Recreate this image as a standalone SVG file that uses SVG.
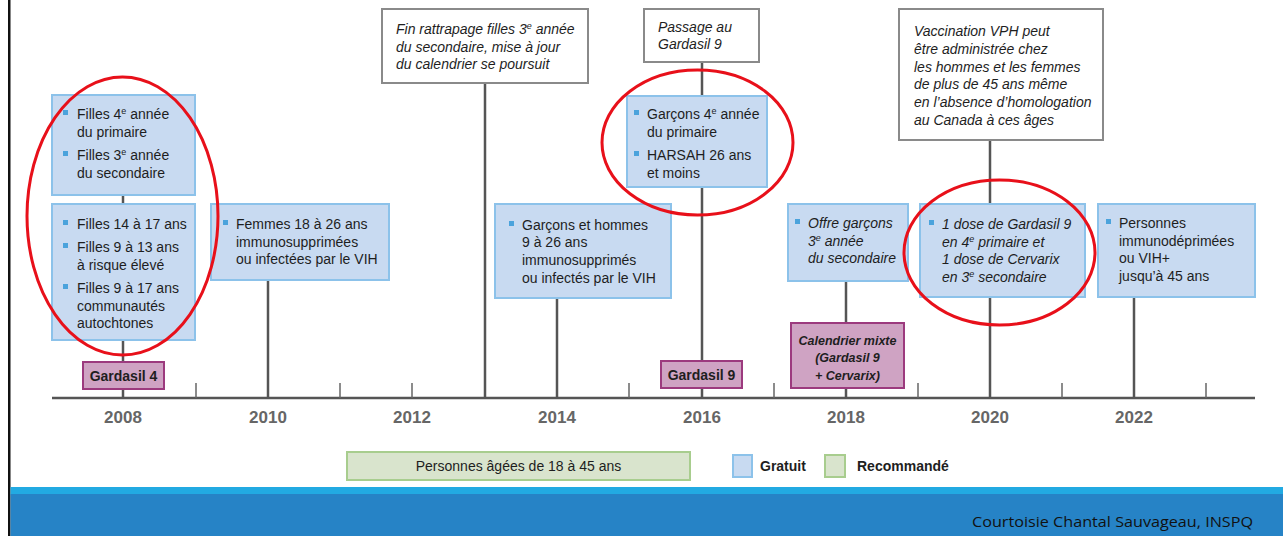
<svg xmlns="http://www.w3.org/2000/svg" width="1283" height="536" viewBox="0 0 1283 536">
<style>
.blue{fill:#c8daf1;stroke:#8cc2ea;stroke-width:2}
.white{fill:#fff;stroke:#8a8a8a;stroke-width:2}
.mauve{fill:#cfa3c3;stroke:#9c3a7e;stroke-width:2}
.green{fill:#d9e4cd;stroke:#a8cd8e;stroke-width:2}
.t{font-family:"Liberation Sans",Arial,sans-serif;font-size:14px;fill:#1e1e1e}
.it{font-style:italic}
.b{font-weight:bold}
.yr{font-family:"Liberation Sans",Arial,sans-serif;font-size:17px;font-weight:bold;fill:#666;text-anchor:middle}
.lab{font-family:"Liberation Sans",Arial,sans-serif;font-size:14px;font-weight:bold;fill:#1e1e1e;text-anchor:middle}
.cal{font-family:"Liberation Sans",Arial,sans-serif;font-size:12.5px;font-weight:bold;font-style:italic;fill:#1e1e1e;text-anchor:middle}
.bul{fill:#4ba3dc}
.ln{stroke:#555;stroke-width:2.5;fill:none}
.tick{stroke:#666;stroke-width:1.5;fill:none}
.red{fill:none;stroke:#e8101a;stroke-width:3}
</style>
<rect x="0" y="0" width="1283" height="536" fill="#fff"/>
<rect x="8" y="0" width="2.5" height="536" fill="#111"/>

<g id="connectors">
<line class="ln" x1="52" y1="398" x2="1255" y2="398" stroke-width="3"/>
<line class="ln" x1="123" y1="195" x2="123" y2="398"/>
<line class="ln" x1="268" y1="280" x2="268" y2="398"/>
<line class="ln" x1="485" y1="83" x2="485" y2="398"/>
<line class="ln" x1="557" y1="298" x2="557" y2="398"/>
<line class="ln" x1="702" y1="62" x2="702" y2="398"/>
<line class="ln" x1="846" y1="281" x2="846" y2="398"/>
<line class="ln" x1="990" y1="140" x2="990" y2="398"/>
<line class="ln" x1="1134" y1="297" x2="1134" y2="398"/>
<line class="tick" x1="196" y1="383" x2="196" y2="398"/>
<line class="tick" x1="340" y1="383" x2="340" y2="398"/>
<line class="tick" x1="412" y1="383" x2="412" y2="398"/>
<line class="tick" x1="629" y1="383" x2="629" y2="398"/>
<line class="tick" x1="774" y1="383" x2="774" y2="398"/>
<line class="tick" x1="918" y1="383" x2="918" y2="398"/>
<line class="tick" x1="1062" y1="383" x2="1062" y2="398"/>
<line class="tick" x1="1206" y1="383" x2="1206" y2="398"/>
</g>

<g id="years">
<text class="yr" x="123" y="423">2008</text>
<text class="yr" x="268" y="423">2010</text>
<text class="yr" x="412" y="423">2012</text>
<text class="yr" x="557" y="423">2014</text>
<text class="yr" x="702" y="423">2016</text>
<text class="yr" x="846" y="423">2018</text>
<text class="yr" x="990" y="423">2020</text>
<text class="yr" x="1134" y="423">2022</text>
</g>

<g id="box-filles-primaire">
<rect class="blue" x="52" y="95" width="143" height="100"/>
<rect class="bul" x="63" y="110" width="5" height="5"/>
<rect class="bul" x="63" y="151" width="5" height="5"/>
<text class="t" x="77" y="119">Filles 4<tspan font-size="9" dy="-5">e</tspan><tspan dy="5"> année</tspan></text>
<text class="t" x="77" y="137">du primaire</text>
<text class="t" x="77" y="160">Filles 3<tspan font-size="9" dy="-5">e</tspan><tspan dy="5"> année</tspan></text>
<text class="t" x="77" y="178">du secondaire</text>
</g>

<g id="box-filles-14-17">
<rect class="blue" x="52" y="204" width="143" height="136"/>
<rect class="bul" x="63" y="220" width="5" height="5"/>
<rect class="bul" x="63" y="243" width="5" height="5"/>
<rect class="bul" x="63" y="284" width="5" height="5"/>
<text class="t" x="77" y="229">Filles 14 à 17 ans</text>
<text class="t" x="77" y="252">Filles 9 à 13 ans</text>
<text class="t" x="77" y="270">à risque élevé</text>
<text class="t" x="77" y="293">Filles 9 à 17 ans</text>
<text class="t" x="77" y="311">communautés</text>
<text class="t" x="77" y="328">autochtones</text>
</g>

<g id="box-femmes">
<rect class="blue" x="211" y="204" width="178" height="76"/>
<rect class="bul" x="223" y="220" width="5" height="5"/>
<text class="t" x="236" y="229">Femmes 18 à 26 ans</text>
<text class="t" x="236" y="247">immunosupprimées</text>
<text class="t" x="236" y="264">ou infectées par le VIH</text>
</g>

<g id="box-fin-rattrapage">
<rect class="white" x="382" y="9" width="206" height="74"/>
<text class="t it" x="396" y="34">Fin rattrapage filles 3<tspan font-size="9" dy="-5">e</tspan><tspan dy="5"> année</tspan></text>
<text class="t it" x="396" y="52">du secondaire, mise à jour</text>
<text class="t it" x="396" y="69">du calendrier se poursuit</text>
</g>

<g id="box-passage">
<rect class="white" x="644" y="9" width="115" height="53"/>
<text class="t it" x="658" y="32">Passage au</text>
<text class="t it" x="658" y="49">Gardasil 9</text>
</g>

<g id="box-garcons-primaire">
<rect class="blue" x="627" y="96" width="140" height="91"/>
<rect class="bul" x="634" y="110" width="5" height="5"/>
<rect class="bul" x="634" y="151" width="5" height="5"/>
<text class="t" x="647" y="119">Garçons 4<tspan font-size="9" dy="-5">e</tspan><tspan dy="5"> année</tspan></text>
<text class="t" x="647" y="137">du primaire</text>
<text class="t" x="647" y="160">HARSAH 26 ans</text>
<text class="t" x="647" y="178">et moins</text>
</g>

<g id="box-garcons-hommes">
<rect class="blue" x="495" y="204" width="176" height="94"/>
<rect class="bul" x="509" y="221" width="5" height="5"/>
<text class="t" x="522" y="230">Garçons et hommes</text>
<text class="t" x="522" y="247">9 à 26 ans</text>
<text class="t" x="522" y="265">immunosupprimés</text>
<text class="t" x="522" y="283">ou infectés par le VIH</text>
</g>

<g id="box-vph">
<rect class="white" x="899" y="9" width="204" height="131"/>
<text class="t it" x="914" y="36">Vaccination VPH peut</text>
<text class="t it" x="914" y="54">être administrée chez</text>
<text class="t it" x="914" y="72">les hommes et les femmes</text>
<text class="t it" x="914" y="89">de plus de 45 ans même</text>
<text class="t it" x="914" y="107">en l’absence d’homologation</text>
<text class="t it" x="914" y="125">au Canada à ces âges</text>
</g>

<g id="box-offre-garcons">
<rect class="blue" x="788" y="204" width="120" height="77"/>
<rect class="bul" x="795" y="219" width="5" height="5"/>
<text class="t it" x="808" y="228">Offre garçons</text>
<text class="t it" x="808" y="246">3<tspan font-size="9" dy="-5">e</tspan><tspan dy="5"> année</tspan></text>
<text class="t it" x="808" y="263">du secondaire</text>
</g>

<g id="box-une-dose">
<rect class="blue" x="920" y="204" width="165" height="93"/>
<rect class="bul" x="929" y="220" width="5" height="5"/>
<text class="t it" x="942" y="229">1 dose de Gardasil 9</text>
<text class="t it" x="942" y="247">en 4<tspan font-size="9" dy="-5">e</tspan><tspan dy="5"> primaire et</tspan></text>
<text class="t it" x="942" y="264">1 dose de Cervarix</text>
<text class="t it" x="942" y="282">en 3<tspan font-size="9" dy="-5">e</tspan><tspan dy="5"> secondaire</tspan></text>
</g>

<g id="box-personnes">
<rect class="blue" x="1098" y="204" width="157" height="93"/>
<rect class="bul" x="1106" y="219" width="5" height="5"/>
<text class="t" x="1119" y="228">Personnes</text>
<text class="t" x="1119" y="246">immunodéprimées</text>
<text class="t" x="1119" y="263">ou VIH+</text>
<text class="t" x="1119" y="281">jusqu’à 45 ans</text>
</g>

<g id="label-gardasil4">
<rect class="mauve" x="83" y="362" width="81" height="27"/>
<text class="lab" x="123.5" y="380.5">Gardasil 4</text>
</g>

<g id="label-gardasil9">
<rect class="mauve" x="661" y="361" width="81" height="27"/>
<text class="lab" x="701.5" y="379.5">Gardasil 9</text>
</g>

<g id="label-calendrier">
<rect class="mauve" x="791" y="323" width="113" height="65"/>
<text class="cal" x="847.5" y="345">Calendrier mixte</text>
<text class="cal" x="847.5" y="362">(Gardasil 9</text>
<text class="cal" x="847.5" y="380">+ Cervarix)</text>
</g>

<g id="highlights">
<ellipse class="red" cx="122.5" cy="216" rx="95.5" ry="139"/>
<ellipse class="red" cx="697.5" cy="142.5" rx="95.5" ry="72.5"/>
<ellipse class="red" cx="999.5" cy="252.5" rx="95.5" ry="72.5"/>
</g>

<g id="legend">
<rect class="green" x="347" y="452" width="343" height="28"/>
<text class="t" x="518.5" y="471" text-anchor="middle">Personnes âgées de 18 à 45 ans</text>
<rect class="blue" x="733" y="455" width="19" height="22"/>
<text class="t b" x="760" y="471">Gratuit</text>
<rect class="green" x="825" y="455" width="20" height="22"/>
<text class="t b" x="857" y="471">Recommandé</text>
</g>

<g id="footer">
<rect x="10.5" y="487" width="1272.5" height="8" fill="#22aae2"/>
<rect x="10.5" y="494" width="1272.5" height="42" fill="#2683c6"/>
<text x="1253" y="527" text-anchor="end" font-family="'Open Sans','Liberation Sans',sans-serif" font-size="14" fill="#111" textLength="281" lengthAdjust="spacingAndGlyphs">Courtoisie Chantal Sauvageau, INSPQ</text>
</g>
</svg>
